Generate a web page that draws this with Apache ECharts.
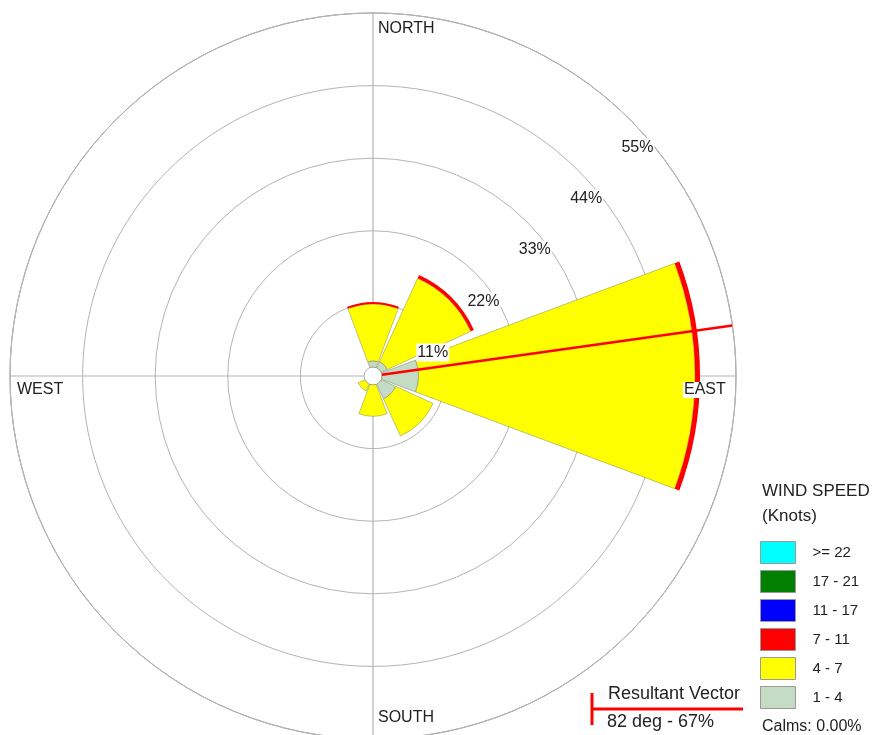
<!DOCTYPE html>
<html>
<head>
<meta charset="utf-8">
<script src="https://cdn.jsdelivr.net/npm/echarts@6/dist/echarts.min.js"></script>
<style>html,body{margin:0;padding:0;background:#fff}#c{width:878px;height:735px}</style>
</head>
<body>
<div id="c"></div>
<script>
// ---- data ----
const directions = ['N', 'NE', 'E', 'SE', 'S', 'SW', 'W', 'NW'];
const speedClasses = ['1 - 4', '4 - 7', '7 - 11', '11 - 17', '17 - 21', '>= 22'];
const legendOrder = ['>= 22', '17 - 21', '11 - 17', '7 - 11', '4 - 7', '1 - 4'];
const speed1to4   = [2.3, 2.4, 6.9, 3.8, 1.0, 1.0, 0, 0];
const speed4to7   = [8.6, 13.9, 41.9, 6.2, 5.1, 1.5, 0, 0];
const speed7to11  = [0.3, 0.5, 0.75, 0, 0, 0, 0, 0];
const speed11to17 = [0, 0, 0, 0, 0, 0, 0, 0];
const speed17to21 = [0, 0, 0, 0, 0, 0, 0, 0];
const speed22up   = [0, 0, 0, 0, 0, 0, 0, 0];
const ringTicks = [11, 22, 33, 44, 55];
const resultantDeg = 82;
const resultantPct = 67;
const calmsPct = '0.00';

// ---- styles ----
const colors = {'1 - 4':'#c4dcc4','4 - 7':'#ffff00','7 - 11':'#ff0000','11 - 17':'#0000ff','17 - 21':'#007f00','>= 22':'#00ffff'};
const FONT = '"Liberation Sans", Arial, Helvetica, sans-serif';
const center = [373, 376];
const OUTER = 363, HOLE = 9;
const MAXPCT = ringTicks[ringTicks.length - 1];
const RING_STEP = ringTicks[1] - ringTicks[0];
const HOLE_PCT = MAXPCT * HOLE / OUTER;
const gridColor = '#b4b4b4';

const seriesData = [speed1to4, speed4to7, speed7to11, speed11to17, speed17to21, speed22up];
const barSeries = speedClasses.map((name, i) => ({
  type: 'bar', name: name, coordinateSystem: 'polar', polarIndex: 1,
  stack: 'wind', data: seriesData[i].map(v => (v === 0 ? '-' : v)), barCategoryGap: '9%', clip: true,
  itemStyle: { color: colors[name], borderColor: i < 2 ? 'rgba(130,130,90,0.7)' : colors[name], borderWidth: i < 2 ? 0.7 : 0 },
  emphasis: { disabled: true }, z: 3
}));

const hiddenAngle = { axisLine:{show:false}, axisLabel:{show:false}, axisTick:{show:false}, splitLine:{show:false} };
const hiddenRadius = { axisLine:{show:false}, axisLabel:{show:false}, axisTick:{show:false}, splitLine:{show:false} };

const option = {
  backgroundColor: '#fff',
  animation: false,
  polar: [
    { center: center, radius: [0, OUTER] },                           // rings
    { center: center, radius: [HOLE, OUTER] },                        // petals
    { center: [center[0] + 34, center[1] + 37], radius: [0, OUTER] }, // ring labels
    { center: center, radius: [HOLE, OUTER] }                         // cross lines, hole, resultant
  ],
  angleAxis: [
    Object.assign({ polarIndex: 0, type: 'value', min: 0, max: 360, startAngle: 90, clockwise: true }, hiddenAngle,
      { axisLine: { show: true, lineStyle: { color: gridColor, width: 1 } } }),
    Object.assign({ polarIndex: 1, type: 'category', data: directions, startAngle: 90 + 180 / directions.length, clockwise: true }, hiddenAngle),
    Object.assign({ polarIndex: 2, type: 'value', min: 0, max: 360, startAngle: 45, clockwise: true }, hiddenAngle),
    Object.assign({ polarIndex: 3, type: 'value', min: 0, max: 360, interval: 90, startAngle: 90, clockwise: true }, hiddenAngle,
      { splitLine: { show: true, lineStyle: { color: gridColor, width: 1.2 } } })
  ],
  radiusAxis: [
    Object.assign({ polarIndex: 0, type: 'value', min: 0, max: MAXPCT, interval: RING_STEP }, hiddenRadius,
      { splitLine: { show: true, lineStyle: { color: gridColor, width: 1 } } }),
    Object.assign({ polarIndex: 1, type: 'value', min: HOLE_PCT, max: MAXPCT }, hiddenRadius),
    Object.assign({ polarIndex: 2, type: 'value', min: 0, max: MAXPCT, interval: RING_STEP, z: 10 }, hiddenRadius,
      { axisLabel: { show: true, inside: false, margin: 13, showMinLabel: false,
        formatter: v => (ringTicks.indexOf(v) >= 0 ? v + '%' : ''),
        color: '#222', fontSize: 16, fontFamily: FONT, backgroundColor: '#fff', padding: [1, 1] } }),
    Object.assign({ polarIndex: 3, type: 'value', min: HOLE_PCT, max: MAXPCT, interval: MAXPCT - HOLE_PCT }, hiddenRadius,
      { splitLine: { show: true, lineStyle: { color: gridColor, width: 1 } } })
  ],
  legend: {
    orient: 'vertical', left: 760, top: 541, padding: 0, itemWidth: 35, itemHeight: 22, itemGap: 6,
    icon: 'rect', selectedMode: false, data: legendOrder,
    itemStyle: { borderColor: '#999', borderWidth: 1 },
    textStyle: { color: '#222', fontSize: 15, fontFamily: FONT, padding: [0, 0, 0, 12] }
  },
  series: barSeries.concat([{
    type: 'line', name: 'Resultant Vector', coordinateSystem: 'polar', polarIndex: 3,
    data: [[HOLE_PCT, resultantDeg], [MAXPCT, resultantDeg]],
    symbol: 'none', lineStyle: { color: '#ff0000', width: 2.5 }, z: 5, silent: true
  }]),
  graphic: [
    { type: 'text', left: 378, top: 21, z: 100, style: { text: 'NORTH', font: '16px ' + FONT, fill: '#222', backgroundColor: '#fff' } },
    { type: 'text', left: 378, top: 710, z: 100, style: { text: 'SOUTH', font: '16px ' + FONT, fill: '#222', backgroundColor: '#fff' } },
    { type: 'text', left: 17, top: 382, z: 100, style: { text: 'WEST', font: '16px ' + FONT, fill: '#222', backgroundColor: '#fff' } },
    { type: 'text', left: 683, top: 382, z: 100, style: { text: 'EAST', font: '16px ' + FONT, fill: '#222', backgroundColor: '#fff', padding: [0, 1] } },
    { type: 'text', left: 762, top: 483, z: 100, style: { text: 'WIND SPEED', font: '17px ' + FONT, fill: '#222' } },
    { type: 'text', left: 762, top: 508, z: 100, style: { text: '(Knots)', font: '17px ' + FONT, fill: '#222' } },
    { type: 'text', left: 762, top: 719, z: 100, style: { text: 'Calms: ' + calmsPct + '%', font: '16px ' + FONT, fill: '#222' } },
    { type: 'line', z: 100, shape: { x1: 592, y1: 693, x2: 592, y2: 725 }, style: { stroke: '#ff0000', lineWidth: 3 } },
    { type: 'line', z: 100, shape: { x1: 592, y1: 709, x2: 743, y2: 709 }, style: { stroke: '#ff0000', lineWidth: 3 } },
    { type: 'text', left: 608, top: 685, z: 100, style: { text: 'Resultant Vector', font: '18px ' + FONT, fill: '#222' } },
    { type: 'text', left: 607, top: 713, z: 100, style: { text: resultantDeg + ' deg - ' + resultantPct + '%', font: '18px ' + FONT, fill: '#222' } }
  ]
};
const chart = echarts.init(document.getElementById('c'), null, { renderer: 'canvas' });
chart.setOption(option);
</script>
</body>
</html>
